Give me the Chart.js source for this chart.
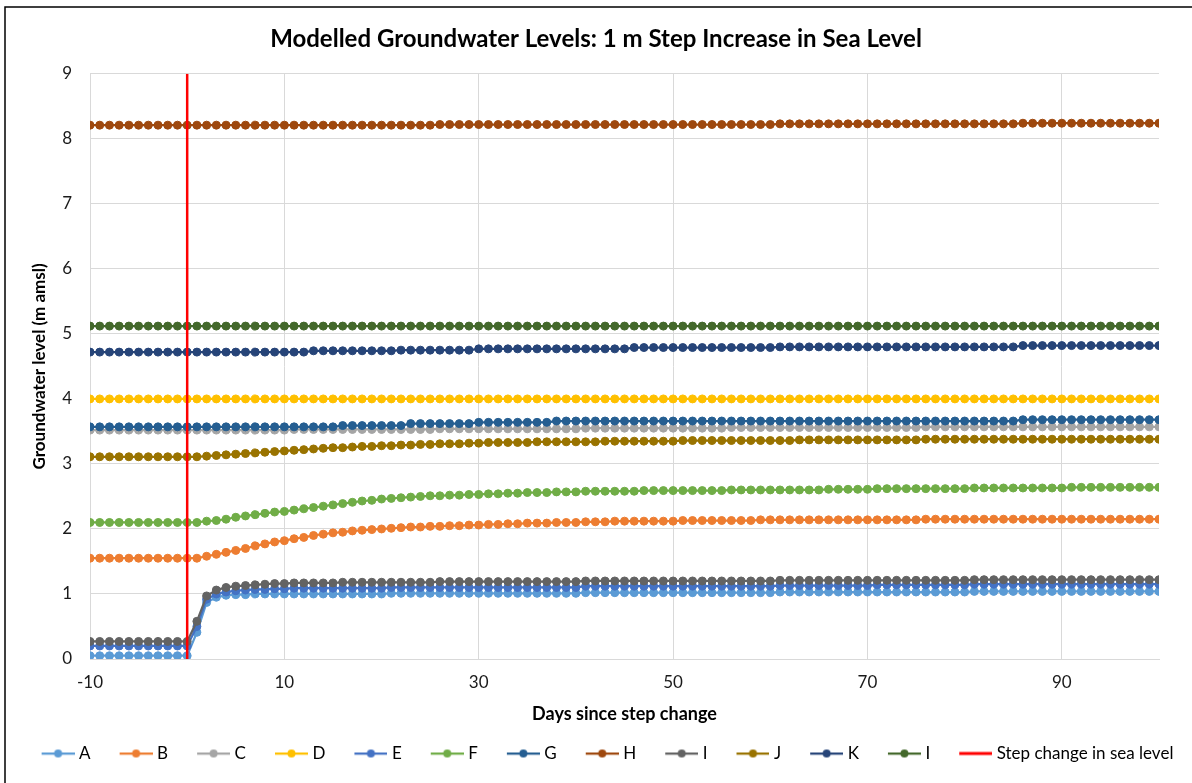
<!DOCTYPE html>
<html>
<head>
<meta charset="utf-8">
<script src="https://cdn.jsdelivr.net/npm/chart.js@4"></script>
<style>html,body{margin:0;padding:0;background:#fff}canvas{display:block}</style>
</head>
<body>
<canvas id="groundwaterChart" width="1192" height="783"></canvas>
<script>
// days since the step change
const days = [-10,-9,-8,-7,-6,-5,-4,-3,-2,-1,0,
  1,2,3,4,5,6,7,8,9,10,
  11,12,13,14,15,16,17,18,19,20,
  21,22,23,24,25,26,27,28,29,30,
  31,32,33,34,35,36,37,38,39,40,
  41,42,43,44,45,46,47,48,49,50,
  51,52,53,54,55,56,57,58,59,60,
  61,62,63,64,65,66,67,68,69,70,
  71,72,73,74,75,76,77,78,79,80,
  81,82,83,84,85,86,87,88,89,90,
  91,92,93,94,95,96,97,98,99,100];

const xTicks = [-10, 10, 30, 50, 70, 90];
const stepDay = [0, 0];
const stepLevel = [0, 9];

const seriesNames = ['A','B','C','D','E','F','G','H','I','J','K','I'];
const seriesColors = ['#5B9BD5','#ED7D31','#A5A5A5','#FFC000','#4472C4','#70AD47','#255E91','#9E480E','#636363','#997300','#264478','#43682B'];

const levelA = [0.05,0.05,0.05,0.05,0.05,0.05,0.05,0.05,0.05,0.05,0.05,
  0.41,0.87,0.95,0.98,0.99,0.99,1.00,1.00,1.00,1.00,
  1.00,1.00,1.00,1.00,1.00,1.00,1.00,1.00,1.00,1.00,
  1.01,1.01,1.01,1.01,1.01,1.01,1.01,1.01,1.01,1.01,
  1.01,1.01,1.01,1.01,1.01,1.01,1.01,1.01,1.01,1.01,
  1.02,1.02,1.02,1.02,1.02,1.02,1.02,1.02,1.02,1.02,
  1.02,1.02,1.02,1.02,1.02,1.02,1.02,1.02,1.02,1.02,
  1.03,1.03,1.03,1.03,1.03,1.03,1.03,1.03,1.03,1.03,
  1.03,1.03,1.03,1.03,1.03,1.03,1.03,1.03,1.03,1.03,
  1.04,1.04,1.04,1.04,1.04,1.04,1.04,1.04,1.04,1.04,
  1.04,1.04,1.04,1.04,1.04,1.04,1.04,1.04,1.04,1.04];

const levelB = [1.55,1.55,1.55,1.55,1.55,1.55,1.55,1.55,1.55,1.55,1.55,
  1.55,1.58,1.61,1.64,1.67,1.70,1.74,1.77,1.80,1.82,
  1.85,1.87,1.90,1.92,1.94,1.95,1.97,1.98,1.99,2.00,
  2.01,2.02,2.03,2.03,2.04,2.04,2.05,2.05,2.06,2.06,
  2.07,2.07,2.08,2.08,2.09,2.09,2.09,2.10,2.10,2.10,
  2.11,2.11,2.11,2.12,2.12,2.12,2.12,2.12,2.12,2.12,
  2.13,2.13,2.13,2.13,2.13,2.13,2.13,2.13,2.14,2.14,
  2.14,2.14,2.14,2.14,2.14,2.14,2.14,2.14,2.14,2.14,
  2.14,2.14,2.14,2.14,2.14,2.15,2.15,2.15,2.15,2.15,
  2.15,2.15,2.15,2.15,2.15,2.15,2.15,2.15,2.15,2.15,
  2.15,2.15,2.15,2.15,2.15,2.15,2.15,2.15,2.15,2.15];

const levelC = [3.52,3.52,3.52,3.52,3.52,3.52,3.52,3.52,3.52,3.52,3.52,
  3.52,3.52,3.52,3.52,3.52,3.52,3.52,3.52,3.52,3.52,
  3.53,3.53,3.53,3.53,3.53,3.53,3.53,3.53,3.53,3.53,
  3.53,3.53,3.53,3.53,3.53,3.54,3.54,3.54,3.54,3.54,
  3.54,3.54,3.54,3.54,3.54,3.54,3.54,3.54,3.54,3.54,
  3.55,3.55,3.55,3.55,3.55,3.55,3.55,3.55,3.55,3.55,
  3.55,3.55,3.55,3.55,3.55,3.56,3.56,3.56,3.56,3.56,
  3.56,3.56,3.56,3.56,3.56,3.56,3.56,3.56,3.56,3.56,
  3.56,3.56,3.56,3.56,3.56,3.57,3.57,3.57,3.57,3.57,
  3.57,3.57,3.57,3.57,3.57,3.57,3.57,3.57,3.57,3.57,
  3.57,3.57,3.57,3.57,3.57,3.57,3.57,3.57,3.57,3.57];

const levelD = [4.00,4.00,4.00,4.00,4.00,4.00,4.00,4.00,4.00,4.00,4.00,
  4.00,4.00,4.00,4.00,4.00,4.00,4.00,4.00,4.00,4.00,
  4.00,4.00,4.00,4.00,4.00,4.00,4.00,4.00,4.00,4.00,
  4.00,4.00,4.00,4.00,4.00,4.00,4.00,4.00,4.00,4.00,
  4.00,4.00,4.00,4.00,4.00,4.00,4.00,4.00,4.00,4.00,
  4.00,4.00,4.00,4.00,4.00,4.00,4.00,4.00,4.00,4.00,
  4.00,4.00,4.00,4.00,4.00,4.00,4.00,4.00,4.00,4.00,
  4.00,4.00,4.00,4.00,4.00,4.00,4.00,4.00,4.00,4.00,
  4.00,4.00,4.00,4.00,4.00,4.00,4.00,4.00,4.00,4.00,
  4.00,4.00,4.00,4.00,4.00,4.00,4.00,4.00,4.00,4.00,
  4.00,4.00,4.00,4.00,4.00,4.00,4.00,4.00,4.00,4.00];

const levelE = [0.20,0.20,0.20,0.20,0.20,0.20,0.20,0.20,0.20,0.20,0.20,
  0.50,0.92,1.00,1.03,1.05,1.06,1.07,1.07,1.08,1.08,
  1.09,1.09,1.09,1.09,1.09,1.09,1.09,1.09,1.09,1.09,
  1.10,1.10,1.10,1.10,1.10,1.10,1.10,1.10,1.10,1.10,
  1.10,1.10,1.10,1.10,1.10,1.10,1.10,1.10,1.10,1.10,
  1.12,1.12,1.12,1.12,1.12,1.12,1.12,1.12,1.12,1.12,
  1.12,1.12,1.12,1.12,1.12,1.12,1.12,1.12,1.12,1.12,
  1.13,1.13,1.13,1.13,1.13,1.13,1.13,1.13,1.13,1.13,
  1.14,1.14,1.14,1.14,1.14,1.14,1.14,1.14,1.14,1.14,
  1.15,1.15,1.15,1.15,1.15,1.15,1.15,1.15,1.15,1.15,
  1.15,1.15,1.15,1.15,1.15,1.15,1.15,1.15,1.15,1.15];

const levelF = [2.10,2.10,2.10,2.10,2.10,2.10,2.10,2.10,2.10,2.10,2.10,
  2.10,2.12,2.13,2.15,2.18,2.20,2.22,2.24,2.26,2.27,
  2.29,2.31,2.33,2.35,2.37,2.39,2.41,2.43,2.44,2.46,
  2.47,2.48,2.49,2.50,2.51,2.51,2.52,2.52,2.53,2.53,
  2.54,2.54,2.55,2.55,2.56,2.56,2.56,2.57,2.57,2.57,
  2.58,2.58,2.58,2.58,2.58,2.58,2.59,2.59,2.59,2.59,
  2.59,2.59,2.59,2.59,2.59,2.60,2.60,2.60,2.60,2.60,
  2.60,2.60,2.60,2.60,2.60,2.61,2.61,2.61,2.61,2.61,
  2.62,2.62,2.62,2.62,2.62,2.62,2.62,2.62,2.62,2.62,
  2.63,2.63,2.63,2.63,2.63,2.63,2.63,2.63,2.63,2.63,
  2.64,2.64,2.64,2.64,2.64,2.64,2.64,2.64,2.64,2.64];

const levelG = [3.57,3.57,3.57,3.57,3.57,3.57,3.57,3.57,3.57,3.57,3.57,
  3.57,3.57,3.57,3.57,3.57,3.57,3.57,3.57,3.57,3.57,
  3.57,3.57,3.57,3.57,3.57,3.59,3.59,3.59,3.59,3.59,
  3.59,3.59,3.62,3.62,3.62,3.62,3.62,3.62,3.62,3.64,
  3.64,3.64,3.64,3.64,3.64,3.64,3.64,3.66,3.66,3.66,
  3.66,3.66,3.66,3.66,3.66,3.66,3.66,3.66,3.66,3.66,
  3.66,3.66,3.66,3.66,3.66,3.66,3.66,3.66,3.66,3.66,
  3.66,3.66,3.66,3.66,3.66,3.66,3.66,3.66,3.66,3.66,
  3.66,3.66,3.66,3.66,3.66,3.66,3.66,3.66,3.66,3.66,
  3.66,3.66,3.66,3.66,3.66,3.68,3.68,3.68,3.68,3.68,
  3.68,3.68,3.68,3.68,3.68,3.68,3.68,3.68,3.68,3.68];

const levelH = [8.21,8.21,8.21,8.21,8.21,8.21,8.21,8.21,8.21,8.21,8.21,
  8.21,8.21,8.21,8.21,8.21,8.21,8.21,8.21,8.21,8.21,
  8.21,8.21,8.21,8.21,8.21,8.21,8.21,8.21,8.21,8.21,
  8.21,8.21,8.21,8.21,8.21,8.22,8.22,8.22,8.22,8.22,
  8.22,8.22,8.22,8.22,8.22,8.22,8.22,8.22,8.22,8.22,
  8.22,8.22,8.22,8.22,8.22,8.22,8.22,8.22,8.22,8.22,
  8.22,8.22,8.22,8.22,8.22,8.22,8.22,8.22,8.22,8.22,
  8.23,8.23,8.23,8.23,8.23,8.23,8.23,8.23,8.23,8.23,
  8.23,8.23,8.23,8.23,8.23,8.23,8.23,8.23,8.23,8.23,
  8.23,8.23,8.23,8.23,8.23,8.24,8.24,8.24,8.24,8.24,
  8.24,8.24,8.24,8.24,8.24,8.24,8.24,8.24,8.24,8.24];

const levelI = [0.27,0.27,0.27,0.27,0.27,0.27,0.27,0.27,0.27,0.27,0.27,
  0.58,0.97,1.06,1.10,1.12,1.13,1.14,1.15,1.16,1.16,
  1.17,1.17,1.17,1.17,1.17,1.18,1.18,1.18,1.18,1.18,
  1.18,1.18,1.18,1.18,1.18,1.19,1.19,1.19,1.19,1.19,
  1.19,1.19,1.19,1.19,1.19,1.19,1.19,1.19,1.19,1.19,
  1.20,1.20,1.20,1.20,1.20,1.20,1.20,1.20,1.20,1.20,
  1.20,1.20,1.20,1.20,1.20,1.20,1.20,1.20,1.20,1.20,
  1.21,1.21,1.21,1.21,1.21,1.21,1.21,1.21,1.21,1.21,
  1.21,1.21,1.21,1.21,1.21,1.21,1.21,1.21,1.21,1.21,
  1.22,1.22,1.22,1.22,1.22,1.22,1.22,1.22,1.22,1.22,
  1.22,1.22,1.22,1.22,1.22,1.22,1.22,1.22,1.22,1.22];

const levelJ = [3.11,3.11,3.11,3.11,3.11,3.11,3.11,3.11,3.11,3.11,3.11,
  3.11,3.12,3.13,3.14,3.15,3.16,3.17,3.18,3.19,3.20,
  3.21,3.22,3.23,3.24,3.25,3.25,3.26,3.27,3.27,3.28,
  3.28,3.29,3.29,3.30,3.30,3.31,3.31,3.31,3.32,3.32,
  3.33,3.33,3.33,3.33,3.33,3.34,3.34,3.34,3.34,3.34,
  3.34,3.34,3.35,3.35,3.35,3.35,3.35,3.35,3.35,3.35,
  3.36,3.36,3.36,3.36,3.36,3.36,3.36,3.36,3.36,3.36,
  3.36,3.36,3.37,3.37,3.37,3.37,3.37,3.37,3.37,3.37,
  3.37,3.37,3.37,3.37,3.37,3.38,3.38,3.38,3.38,3.38,
  3.38,3.38,3.38,3.38,3.38,3.38,3.38,3.38,3.38,3.38,
  3.38,3.38,3.38,3.38,3.38,3.38,3.38,3.38,3.38,3.38];

const levelK = [4.72,4.72,4.72,4.72,4.72,4.72,4.72,4.72,4.72,4.72,4.72,
  4.72,4.72,4.72,4.72,4.72,4.72,4.72,4.72,4.72,4.72,
  4.72,4.72,4.74,4.74,4.74,4.74,4.74,4.74,4.74,4.74,
  4.74,4.75,4.75,4.75,4.75,4.75,4.75,4.75,4.75,4.77,
  4.77,4.77,4.77,4.77,4.77,4.77,4.77,4.77,4.77,4.77,
  4.77,4.77,4.77,4.77,4.77,4.79,4.79,4.79,4.79,4.79,
  4.79,4.79,4.79,4.79,4.79,4.79,4.79,4.79,4.79,4.79,
  4.80,4.80,4.80,4.80,4.80,4.80,4.80,4.80,4.80,4.80,
  4.80,4.80,4.80,4.80,4.80,4.80,4.80,4.80,4.80,4.80,
  4.80,4.80,4.80,4.80,4.80,4.82,4.82,4.82,4.82,4.82,
  4.82,4.82,4.82,4.82,4.82,4.82,4.82,4.82,4.82,4.82];

const levelL = [5.12,5.12,5.12,5.12,5.12,5.12,5.12,5.12,5.12,5.12,5.12,
  5.12,5.12,5.12,5.12,5.12,5.12,5.12,5.12,5.12,5.12,
  5.12,5.12,5.12,5.12,5.12,5.12,5.12,5.12,5.12,5.12,
  5.12,5.12,5.12,5.12,5.12,5.12,5.12,5.12,5.12,5.12,
  5.12,5.12,5.12,5.12,5.12,5.12,5.12,5.12,5.12,5.12,
  5.12,5.12,5.12,5.12,5.12,5.12,5.12,5.12,5.12,5.12,
  5.12,5.12,5.12,5.12,5.12,5.12,5.12,5.12,5.12,5.12,
  5.12,5.12,5.12,5.12,5.12,5.12,5.12,5.12,5.12,5.12,
  5.12,5.12,5.12,5.12,5.12,5.12,5.12,5.12,5.12,5.12,
  5.12,5.12,5.12,5.12,5.12,5.12,5.12,5.12,5.12,5.12,
  5.12,5.12,5.12,5.12,5.12,5.12,5.12,5.12,5.12,5.12];

const allLevels = [levelA, levelB, levelC, levelD, levelE, levelF, levelG, levelH, levelI, levelJ, levelK, levelL];

// legend marker: line with a dot (Excel style), pushed to the right end of the box
const legendBox = 52;
function legendIcon(color, withDot) {
  const c = document.createElement('canvas');
  c.width = legendBox + 8; c.height = 12;
  const g = c.getContext('2d');
  const x0 = c.width - 33;
  g.strokeStyle = color;
  g.lineWidth = withDot ? 2.25 : 3;
  g.beginPath(); g.moveTo(x0, 6); g.lineTo(c.width, 6); g.stroke();
  if (withDot) {
    g.fillStyle = color;
    g.beginPath(); g.arc(x0 + 16.5, 6, 4, 0, Math.PI * 2); g.fill();
  }
  return c;
}

const datasets = allLevels.map((vals, i) => ({
  label: seriesNames[i],
  data: vals,
  borderColor: seriesColors[i],
  backgroundColor: seriesColors[i],
  borderWidth: 2.25,
  pointRadius: 4,
  pointBorderWidth: 1,
  pointHoverRadius: 4,
  order: 20 - i
}));
datasets.push({
  label: 'Step change in sea level',
  data: stepDay.map((d, i) => ({x: d, y: stepLevel[i]})),
  borderColor: '#FF0000',
  backgroundColor: '#FF0000',
  borderWidth: 2.5,
  pointRadius: 0,
  order: 0,
  isStep: true
});

const frame = {
  id: 'frame',
  afterDraw(chart) {
    const c = chart.ctx;
    c.save();
    c.strokeStyle = '#000';
    c.lineWidth = 1.5;
    c.beginPath();
    c.moveTo(5, 783); c.lineTo(5, 7); c.lineTo(1192, 7);
    c.stroke();
    c.restore();
  }
};

Chart.defaults.font.family = 'Lato';
Chart.defaults.color = '#000';

new Chart(document.getElementById('groundwaterChart'), {
  type: 'line',
  data: { labels: days, datasets: datasets },
  options: {
    responsive: false,
    animation: false,
    devicePixelRatio: 1,
    layout: { padding: { left: 0, right: 0, top: 8, bottom: 11 } },
    plugins: {
      title: {
        display: true,
        text: 'Modelled Groundwater Levels: 1 m Step Increase in Sea Level',
        font: { size: 24, weight: 'bold' },
        color: '#000',
        padding: { top: 17, bottom: 20 }
      },
      legend: {
        position: 'bottom',
        labels: {
          usePointStyle: true,
          pointStyleWidth: legendBox,
          padding: 6,
          font: { size: 17 },
          color: '#000',
          generateLabels: chart => chart.data.datasets.map((ds, i) => ({
            text: ds.label,
            pointStyle: legendIcon(ds.borderColor, !ds.isStep),
            fillStyle: ds.borderColor,
            strokeStyle: ds.borderColor,
            lineWidth: 0,
            hidden: false,
            fontColor: '#000',
            datasetIndex: i
          }))
        }
      },
      tooltip: { enabled: false }
    },
    scales: {
      x: {
        type: 'linear',
        min: -10,
        max: 100,
        afterBuildTicks: scale => { scale.ticks = xTicks.map(v => ({ value: v })); },
        afterFit: scale => { scale.height = 80; },
        grid: { color: '#d9d9d9', drawTicks: false },
        border: { color: '#d9d9d9' },
        ticks: { padding: 13, font: { size: 17 }, color: '#1a1a1a', maxRotation: 0 },
        title: {
          display: true,
          text: 'Days since step change',
          font: { size: 18, weight: 'bold' },
          color: '#000',
          padding: { top: 0, bottom: 14 }
        }
      },
      y: {
        min: 0,
        max: 9,
        afterFit: scale => { scale.width = 90; },
        grid: { color: '#d9d9d9', drawTicks: false },
        border: { color: '#d9d9d9' },
        ticks: { stepSize: 1, padding: 18, font: { size: 17 }, color: '#1a1a1a' },
        title: {
          display: true,
          text: 'Groundwater level (m amsl)',
          font: { size: 17, weight: 'bold' },
          color: '#000',
          padding: { top: 29, bottom: 0 }
        }
      },
      // empty right-hand strip so the plot stops where the reference does
      pad: {
        type: 'linear',
        position: 'right',
        min: 0,
        max: 1,
        afterFit: scale => { scale.width = 33; },
        grid: { display: false, drawTicks: false },
        border: { display: false },
        ticks: { display: false }
      }
    }
  },
  plugins: [frame]
});
</script>
</body>
</html>
